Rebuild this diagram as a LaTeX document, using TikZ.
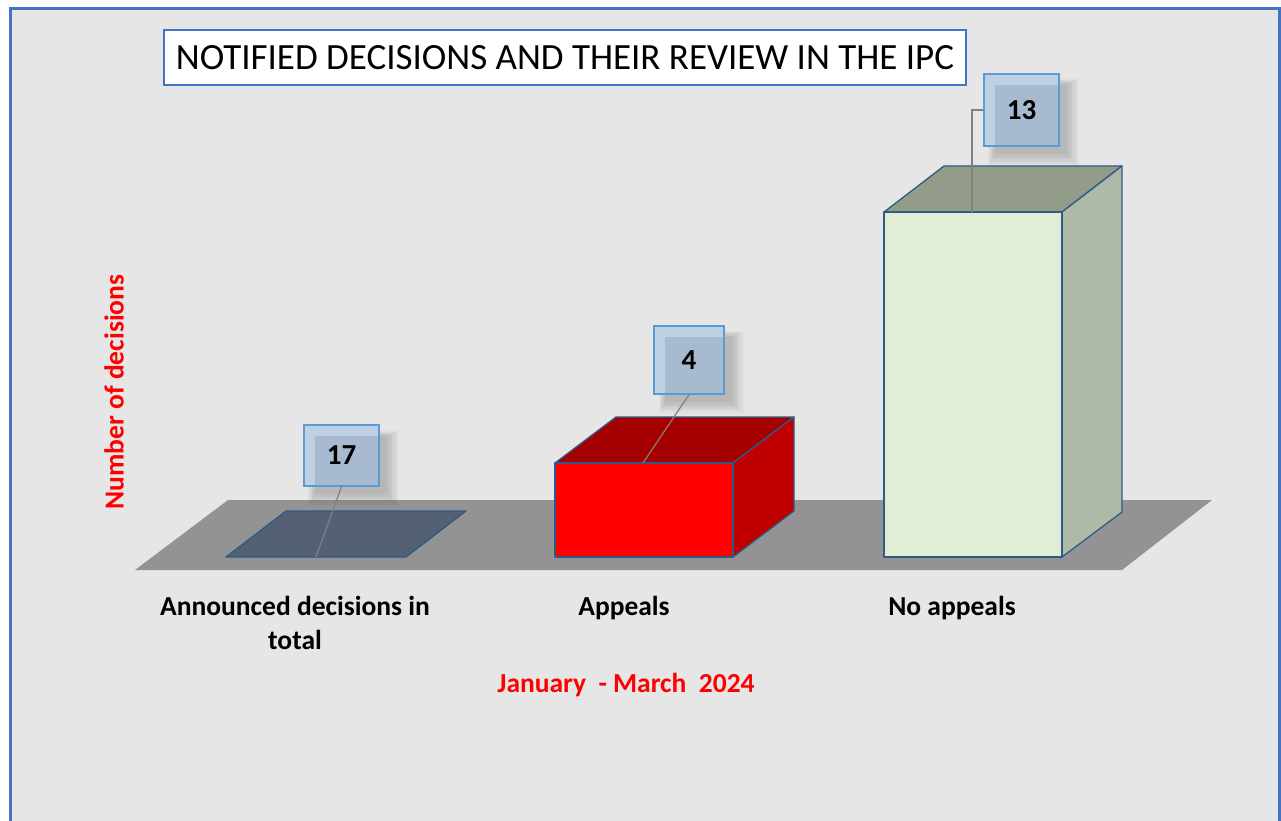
\documentclass[tikz,border=0pt]{standalone}
\usepackage{fontspec}
\setmainfont{Carlito}
\usetikzlibrary{shadows}
\definecolor{bg}{HTML}{E6E6E6}
\definecolor{framec}{HTML}{4472C4}
\definecolor{floorc}{HTML}{939393}
\definecolor{edgec}{HTML}{2E5A88}
\definecolor{slate}{HTML}{546174}
\definecolor{redfront}{HTML}{FF0000}
\definecolor{redtop}{HTML}{A50000}
\definecolor{redside}{HTML}{C00000}
\definecolor{grfront}{HTML}{E2EDD6}
\definecolor{grtop}{HTML}{939B89}
\definecolor{grside}{HTML}{AEB9A7}
\definecolor{lbllight}{HTML}{BED0E4}
\definecolor{lbldark}{HTML}{A8BACF}
\definecolor{lblborder}{HTML}{5B9BD5}
\definecolor{leader}{HTML}{808080}
\tikzset{
  barface/.style={draw=edgec, line width=1.3pt, line join=round},
  lblbox/.style={draw=lblborder, line width=1.3pt, fill=lbllight, inner sep=0pt,
    font=\fontsize{29}{34}\selectfont\bfseries,
    drop shadow={shadow xshift=10pt, shadow yshift=-10pt, opacity=0.025, fill=black, shadow scale=1.22},
    drop shadow={shadow xshift=10pt, shadow yshift=-10pt, opacity=0.03, fill=black, shadow scale=1.17},
    drop shadow={shadow xshift=10pt, shadow yshift=-10pt, opacity=0.035, fill=black, shadow scale=1.12},
    drop shadow={shadow xshift=10pt, shadow yshift=-10pt, opacity=0.04, fill=black, shadow scale=1.07},
    drop shadow={shadow xshift=10pt, shadow yshift=-10pt, opacity=0.04, fill=black, shadow scale=1.02},
    drop shadow={shadow xshift=10pt, shadow yshift=-10pt, opacity=0.04, fill=black, shadow scale=0.95},
    path picture={\fill[lbldark] ([xshift=11pt,yshift=-11pt]path picture bounding box.north west) rectangle (path picture bounding box.south east);}},
  leaderline/.style={draw=leader, line width=1.2pt},
  catlabel/.style={font=\fontsize{27.5}{34}\selectfont\bfseries, align=center, inner sep=0pt, anchor=base},
  redlabel/.style={font=\fontsize{27.5}{34}\selectfont\bfseries, text=red, inner sep=0pt},
}
\begin{document}
\begin{tikzpicture}[x=1pt,y=-1pt]
\useasboundingbox (0,0) rectangle (1281,821);
\fill[white] (0,0) rectangle (1281,821);
\fill[bg] (10,8) rectangle (1281,821);
\draw[framec, line width=3pt] (10,821) -- (10,8.5) -- (1279.5,8.5) -- (1279.5,821);

% title
\node[draw=framec, line width=1.5pt, fill=white, minimum width=802pt, minimum height=55pt, inner sep=0pt,
  font=\fontsize{37}{44}\selectfont] (title) at (565,57.5) {NOTIFIED DECISIONS AND THEIR REVIEW IN THE IPC};

% floor
\fill[floorc] (135,570) -- (1122,570) -- (1212,500) -- (228,500) -- cycle;

% bar 1 (flat)
\filldraw[barface, fill=slate] (226,557) -- (406,557) -- (466,511) -- (286,511) -- cycle;
\coordinate (c17) at (316,557);

% bar 2 (red)
\filldraw[barface, fill=redtop] (555,463) -- (733,463) -- (794,417) -- (616,417) -- cycle;
\filldraw[barface, fill=redside] (733,463) -- (794,417) -- (794,511) -- (733,557) -- cycle;
\filldraw[barface, fill=redfront] (555,463) rectangle (733,557);
\coordinate (c4) at (643,463);

% bar 3 (green)
\filldraw[barface, fill=grtop] (884,212) -- (1062,212) -- (1122,166) -- (944,166) -- cycle;
\filldraw[barface, fill=grside] (1062,212) -- (1122,166) -- (1122,512) -- (1062,557) -- cycle;
\filldraw[barface, fill=grfront] (884,212) rectangle (1062,557);
\coordinate (c13) at (972,212);

% value labels
\node[lblbox, minimum width=75pt, minimum height=61pt] (l17) at (341.5,455.5) {17};
\node[lblbox, minimum width=70pt, minimum height=68pt] (l4) at (689,360) {4};
\node[lblbox, minimum width=75pt, minimum height=72pt] (l13) at (1021.5,110) {13};

\draw[leaderline] (l17.south) -- (c17);
\draw[leaderline] (l4.south) -- (c4);
\draw[leaderline] (l13.west) -| (c13);

% category labels
\node[catlabel] (cat1) at (295,649) {Announced decisions in\\total};
\node[catlabel] (cat2) at (624,615) {Appeals};
\node[catlabel] (cat3) at (952,615) {No appeals};

% axis titles
\node[redlabel, anchor=base] (xtitle) at (626,692) {January\ \ - March\ \ 2024};
\node[redlabel, rotate=90] (ytitle) at (114,392) {Number of decisions};
\end{tikzpicture}
\end{document}
